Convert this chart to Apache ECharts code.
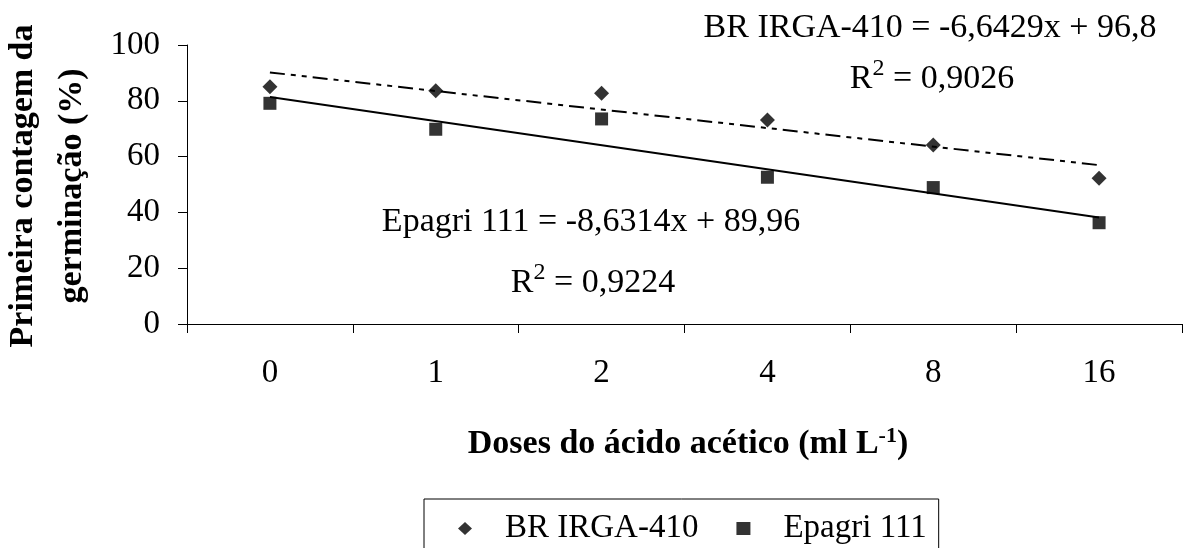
<!DOCTYPE html>
<html>
<head>
<meta charset="utf-8">
<script src="https://cdn.jsdelivr.net/npm/echarts@6/dist/echarts.min.js"></script>
<style>
html,body{margin:0;padding:0;background:#fff;}
#chart{width:1183px;height:548px;}
</style>
</head>
<body>
<div id="chart"></div>
<script>
// ---- data ----
const categories = ['0', '1', '2', '4', '8', '16'];
const brIrga = [85.0, 83.6, 82.7, 73.1, 64.2, 52.2];
const epagri = [79.1, 69.8, 73.5, 52.6, 48.9, 36.3];
// linear fits printed on the chart: y = a*x + b, x = 1..6 (category position)
const brFit = [-6.6429, 96.8];
const epFit = [-8.6314, 89.96];
const yMin = 0, yMax = 100, yStep = 20;
const seriesNames = ['BR IRGA-410', 'Epagri 111'];

const FONT = '"Liberation Serif", "Times New Roman", serif';

function fitLine(coef) {
  const n = categories.length;
  return [
    [categories[0], coef[0] * 1 + coef[1]],
    [categories[n - 1], coef[0] * n + coef[1]]
  ];
}

const supRich = {
  r: {fontSize: 34, fontFamily: FONT, fill: '#000'},
  s: {fontSize: 24, fontFamily: FONT, padding: [0, 0, 20, 0], fill: '#000'}
};

const chart = echarts.init(document.getElementById('chart'), null, {renderer: 'canvas'});
chart.setOption({
  backgroundColor: '#ffffff',
  animation: false,
  textStyle: {fontFamily: FONT, color: '#000'},
  grid: {left: 187, right: 1, top: 45, bottom: 224, containLabel: false},
  xAxis: {
    type: 'category',
    data: categories,
    boundaryGap: true,
    axisLine: {lineStyle: {color: '#000', width: 1}},
    axisTick: {show: true, length: 9, alignWithLabel: false, lineStyle: {color: '#000'}},
    axisLabel: {margin: 33, fontSize: 33, fontFamily: FONT, color: '#000'},
    splitLine: {show: false}
  },
  yAxis: {
    type: 'value',
    min: yMin, max: yMax, interval: yStep,
    axisLine: {show: true, lineStyle: {color: '#000', width: 1}},
    axisTick: {show: true, length: 9, lineStyle: {color: '#000'}},
    axisLabel: {margin: 27, fontSize: 33, fontFamily: FONT, color: '#000'},
    splitLine: {show: false}
  },
  legend: {
    data: [
      {name: seriesNames[0], icon: 'diamond'},
      {name: seriesNames[1], icon: 'rect'}
    ],
    left: 424, top: 499,
    orient: 'horizontal',
    itemWidth: 14, itemHeight: 13, itemGap: 38,
    padding: [13, 12, 40, 34],
    borderColor: '#000', borderWidth: 1,
    textStyle: {fontSize: 33, fontFamily: FONT, color: '#000', padding: [0, 0, 8, 28]},
    selectedMode: false
  },
  series: [
    {
      name: 'fitBR', type: 'line', data: fitLine(brFit), symbol: 'none', silent: true, z: 1,
      lineStyle: {color: '#000', width: 2, type: [15, 6, 5, 6, 5, 6]}
    },
    {
      name: 'fitEP', type: 'line', data: fitLine(epFit), symbol: 'none', silent: true, z: 1,
      lineStyle: {color: '#000', width: 2, type: 'solid'}
    },
    {
      name: seriesNames[0], type: 'scatter', data: brIrga, symbol: 'diamond', symbolSize: 15, z: 3,
      itemStyle: {color: '#000'}
    },
    {
      name: seriesNames[1], type: 'scatter', data: epagri, symbol: 'rect', symbolSize: 13, z: 3,
      itemStyle: {color: '#000'}
    }
  ],
  graphic: [
    {
      type: 'text', x: 930, y: 28,
      style: {text: 'BR IRGA-410 = -6,6429x + 96,8', align: 'center', verticalAlign: 'middle',
        fontSize: 34, fontFamily: FONT, fill: '#000'}
    },
    {
      type: 'text', x: 932, y: 79,
      style: {text: '{r|R}{s|2}{r| = 0,9026}', align: 'center', verticalAlign: 'middle',
        fontSize: 34, fontFamily: FONT, fill: '#000', rich: supRich}
    },
    {
      type: 'text', x: 591, y: 222,
      style: {text: 'Epagri 111 = -8,6314x + 89,96', align: 'center', verticalAlign: 'middle',
        fontSize: 34, fontFamily: FONT, fill: '#000'}
    },
    {
      type: 'text', x: 593, y: 283,
      style: {text: '{r|R}{s|2}{r| = 0,9224}', align: 'center', verticalAlign: 'middle',
        fontSize: 34, fontFamily: FONT, fill: '#000', rich: supRich}
    },
    {
      type: 'text', x: 688, y: 444,
      style: {text: '{t|Doses do ácido acético (ml L}{s|-1}{t|)}', align: 'center', verticalAlign: 'middle',
        fontSize: 34, fontWeight: 'bold', fontFamily: FONT, fill: '#000',
        rich: {t: {fontSize: 34, fontWeight: 'bold', fontFamily: FONT, fill: '#000'},
               s: {fontSize: 22, fontWeight: 'bold', fontFamily: FONT, padding: [0, 0, 16, 0], fill: '#000'}}}
    },
    {
      type: 'text', x: 48, y: 186, rotation: Math.PI / 2,
      style: {text: 'Primeira contagem da\ngerminação (%)', align: 'center', verticalAlign: 'middle',
        fontSize: 34, fontWeight: 'bold', fontFamily: FONT, lineHeight: 49, fill: '#000'}
    }
  ]
});
</script>
</body>
</html>
